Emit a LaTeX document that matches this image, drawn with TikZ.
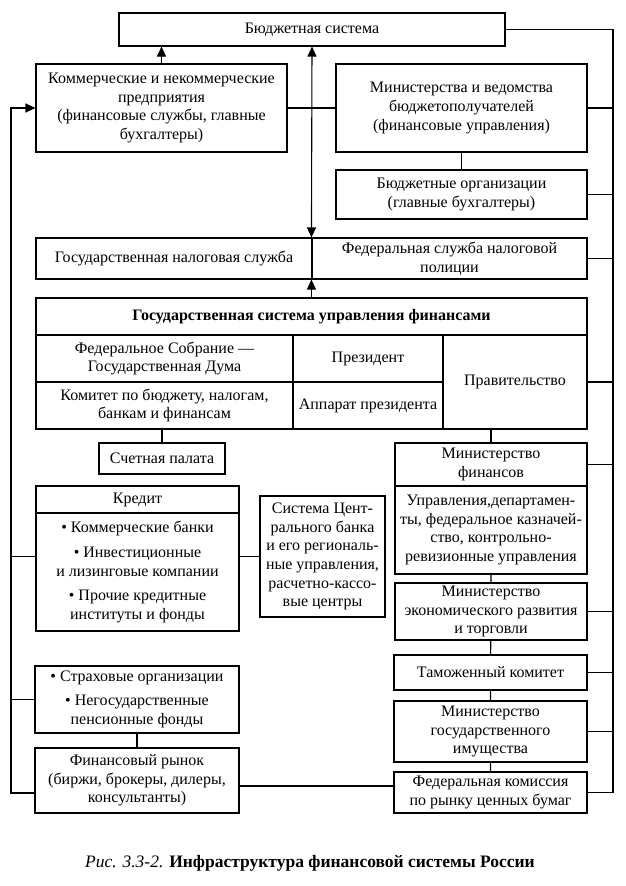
\documentclass[tikz,border=0pt]{standalone}
\usepackage{fontspec}
\setmainfont{Liberation Serif}
\usetikzlibrary{arrows.meta}
\tikzset{
  box/.style={draw,line width=1.1pt,align=center,inner sep=0pt,font=\fontsize{16}{18.7}\selectfont},
  link/.style={line width=1.1pt},
  arr/.style={line width=1.1pt,-{Triangle[length=10pt,width=9pt]}},
  arrtwo/.style={line width=1.1pt,{Triangle[length=10pt,width=9pt]}-{Triangle[length=10pt,width=9pt]}}
}
\begin{document}
\begin{tikzpicture}[x=1pt,y=-1pt]
  \path[use as bounding box,fill=white] (0,0) rectangle (626,886);
  \node[box,minimum width=386pt,minimum height=33pt] (budget) at (312,29.5) {Бюджетная система};
  \node[box,minimum width=251pt,minimum height=88pt] (kom) at (161.5,108) {Коммерческие и некоммерческие\\предприятия\\(финансовые службы, главные\\бухгалтеры)};
  \node[box,minimum width=251pt,minimum height=88pt] (minv) at (461.5,108) {Министерства и ведомства\\бюджетополучателей\\(финансовые управления)};
  \node[box,minimum width=251pt,minimum height=49pt] (budorg) at (461.5,194.5) {Бюджетные организации\\(главные бухгалтеры)};
  \node[box,minimum width=276pt,minimum height=41pt] (gns) at (174,258.5) {Государственная налоговая служба};
  \node[box,minimum width=275pt,minimum height=41pt] (fsnp) at (449.5,258.5) {Федеральная служба налоговой\\полиции};
  \node[box,minimum width=551pt,minimum height=37pt] (gsuf) at (311.5,316.5) {\bfseries Государственная система управления финансами};
  \node[box,minimum width=257pt,minimum height=47pt] (fedsob) at (164.5,358.5) {Федеральное Собрание —\\Государственная Дума};
  \node[box,minimum width=150pt,minimum height=47pt] (prez) at (368,358.5) {Президент};
  \node[box,minimum width=257pt,minimum height=47pt] (komitet) at (164.5,405.5) {Комитет по бюджету, налогам,\\банкам и финансам};
  \node[box,minimum width=150pt,minimum height=47pt] (apparat) at (368,405.5) {Аппарат президента};
  \node[box,minimum width=144pt,minimum height=94pt] (prav) at (515,382) {Правительство};
  \node[box,minimum width=126pt,minimum height=31pt] (schet) at (162,458.5) {Счетная палата};
  \node[box,minimum width=192pt,minimum height=43pt] (minfin) at (491,464.5) {Министерство\\финансов};
  \node[box,minimum width=192pt,minimum height=88pt] (upr) at (491,530) {Управления,департамен-\\ты, федеральное казначей-\\ство, контрольно-\\ревизионные управления};
  \node[box,minimum width=192pt,minimum height=57pt] (mecon) at (491,611.5) {Министерство\\экономического развития\\и торговли};
  \node[box,minimum width=193pt,minimum height=35pt] (tam) at (490.5,672.5) {Таможенный комитет};
  \node[box,minimum width=193pt,minimum height=61pt] (mgi) at (490.5,731.5) {Министерство\\государственного\\имущества};
  \node[box,minimum width=193pt,minimum height=41pt] (fkcb) at (490.5,792.5) {Федеральная комиссия\\по рынку ценных бумаг};
  \node[box,minimum width=203pt,minimum height=27pt] (kredhead) at (137.5,499.5) {Кредит};
  \node[box,minimum width=203pt,minimum height=118pt] (kredlist) at (137.5,572) {• Коммерческие банки\\[6pt]• Инвестиционные\\и лизинговые компании\\[6pt]• Прочие кредитные\\институты и фонды};
  \node[box,minimum width=125pt,minimum height=121pt] (cbr) at (322.5,556.5) {Система Цент-\\рального банка\\и его региональ-\\ные управления,\\расчетно-кассо-\\вые центры};
  \node[box,minimum width=204pt,minimum height=67pt] (strah) at (137,699.5) {• Страховые организации\\[5pt]• Негосударственные\\пенсионные фонды};
  \node[box,minimum width=204pt,minimum height=65pt] (finr) at (137,780.5) {Финансовый рынок\\(биржи, брокеры, дилеры,\\консультанты)};
  \node[font=\fontsize{17.5}{20}\selectfont] (cap) at (310,863) {\textit{Рис. 3.3-2.} \textbf{Инфраструктура финансовой системы России}};
  \coordinate (lt) at (11,0);
  \coordinate (rt) at (613,0);
  \draw[arr] (kom.north) -- (kom.north |- budget.south);
  \draw[arrtwo] (budget.south) -- (fsnp.north west);
  \draw[arr] (gsuf.north -| fsnp.west) -- (fsnp.south west);
  \draw[link] (kom) -- (minv);
  \draw[link] (minv) -- (budorg);
  \draw[link] (schet.north) -- (schet.north |- komitet.south);
  \draw[link] (minfin.north) -- (minfin.north |- prav.south);
  \draw[link] (upr) -- (mecon) (mecon) -- (tam) (tam) -- (mgi) (mgi) -- (fkcb);
  \draw[link] (kredlist.east |- cbr.west) -- (cbr.west);
  \draw[link] (strah) -- (finr);
  \draw[link] ([yshift=-5.5pt]finr.east) -- ([yshift=-5.5pt]finr.east -| fkcb.west);
  \draw[arr] ([yshift=-12.5pt]finr.west) -| (lt |- kom.west) -- (kom.west);
  \draw[link] (strah.west) -- (strah.west -| lt);
  \draw[link] (kredlist.west |- cbr.west) -- (lt |- cbr.west);
  \draw[link] (budget.east) -| (rt |- fkcb.east) -- (fkcb.east);
  \foreach \n in {minv,budorg,fsnp,prav,minfin,mecon,tam,mgi}
    \draw[link] (\n.east) -- (\n.east -| rt);
\end{tikzpicture}
\end{document}
